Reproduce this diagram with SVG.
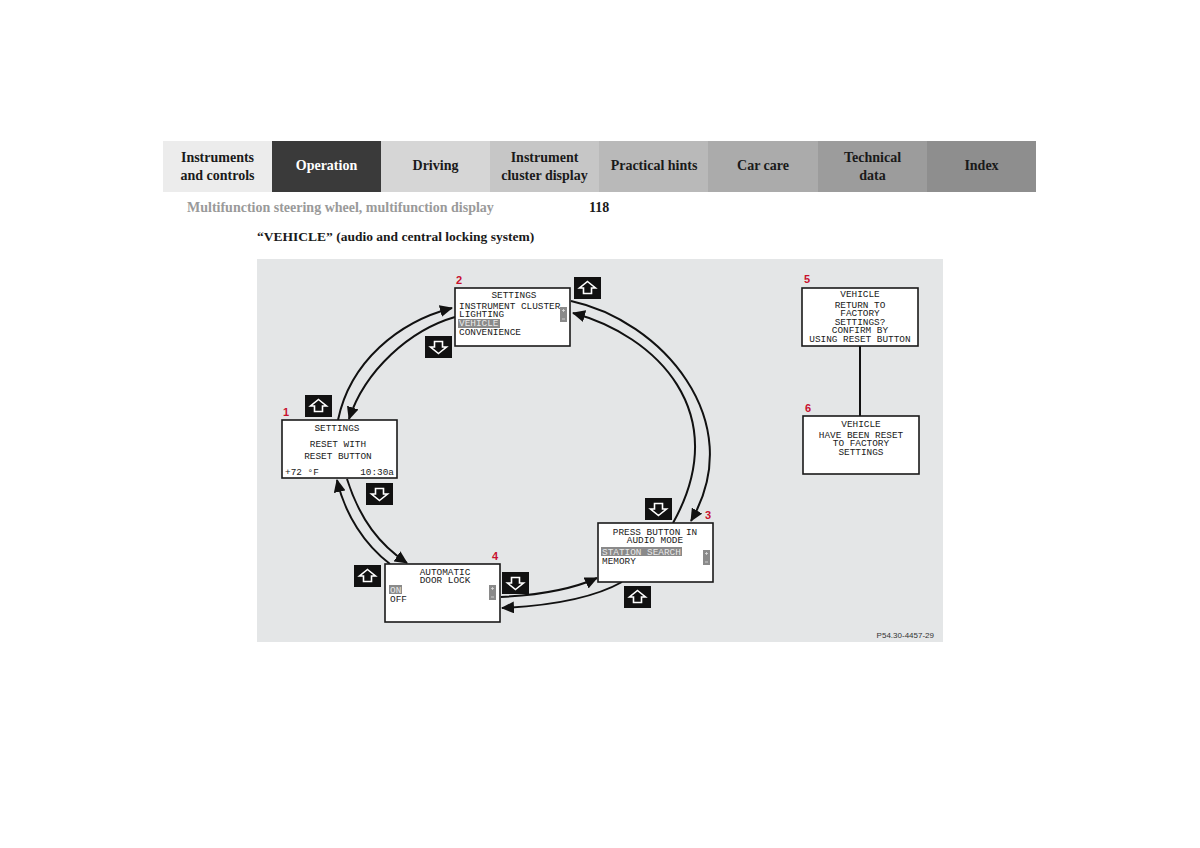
<svg xmlns="http://www.w3.org/2000/svg" width="1200" height="848" viewBox="0 0 1200 848">
<style>
.tab{font-family:"Liberation Serif",serif;font-weight:bold;font-size:14px;text-anchor:middle;fill:#1a1a1a}
.lcd{font-family:"Liberation Mono","DejaVu Sans Mono",monospace;font-size:9.4px;fill:#1a1a1a}
.c{text-anchor:middle}
.hl{fill:#e8e8e8}
.box{fill:#ffffff;stroke:#1a1a1a;stroke-width:1.6}
.num{font-family:"Liberation Sans",sans-serif;font-weight:bold;font-size:11px;fill:#c8102e}
.conn{fill:none;stroke:#111;stroke-width:2}
.btn{fill:#111}
.ico{fill:none;stroke:#fff;stroke-width:1.6;stroke-linejoin:miter}
.hlr{fill:#8a8a8a}
</style>
<defs>
<marker id="ah" markerUnits="userSpaceOnUse" markerWidth="14" markerHeight="12" refX="12" refY="6" orient="auto">
<path d="M0,0 L13,6 L0,12 Z" fill="#111"/>
</marker>
<g id="up"><rect class="btn" width="27" height="22"/><path class="ico" d="M13.5,4.5 L21.5,11 L17.5,11 L17.5,16.5 L9.5,16.5 L9.5,11 L5.5,11 Z"/></g>
<g id="down"><rect class="btn" width="27" height="22"/><path class="ico" d="M13.5,17.5 L21.5,11 L17.5,11 L17.5,5.5 L9.5,5.5 L9.5,11 L5.5,11 Z"/></g>
<g id="scroll"><rect class="hlr" width="7" height="15"/><path d="M2,3.5 H5 M3.5,2 V5 M2,12 H5" stroke="#ddd" stroke-width="0.8"/></g>
</defs>

<g id="header">
<rect x="163" y="141" width="109" height="51" fill="#ececec"/>
<rect x="272" y="141" width="109" height="51" fill="#3a3a3a"/>
<rect x="381" y="141" width="109" height="51" fill="#d6d6d6"/>
<rect x="490" y="141" width="109" height="51" fill="#c6c6c6"/>
<rect x="599" y="141" width="109" height="51" fill="#b9b9b9"/>
<rect x="708" y="141" width="110" height="51" fill="#ababab"/>
<rect x="818" y="141" width="109" height="51" fill="#9c9c9c"/>
<rect x="927" y="141" width="109" height="51" fill="#8e8e8e"/>
<text class="tab" x="217.5" y="162">Instruments</text>
<text class="tab" x="217.5" y="180">and controls</text>
<text class="tab" x="326.5" y="170" fill="#ffffff" style="fill:#fff">Operation</text>
<text class="tab" x="435.5" y="170">Driving</text>
<text class="tab" x="544.5" y="162">Instrument</text>
<text class="tab" x="544.5" y="180">cluster display</text>
<text class="tab" x="654" y="170">Practical hints</text>
<text class="tab" x="763" y="170">Car care</text>
<text class="tab" x="872.5" y="162">Technical</text>
<text class="tab" x="872.5" y="180">data</text>
<text class="tab" x="981.5" y="170">Index</text>
<text x="187" y="212" font-family="Liberation Serif,serif" font-weight="bold" font-size="14" fill="#9a9a9a">Multifunction steering wheel, multifunction display</text>
<text x="589" y="212" font-family="Liberation Serif,serif" font-weight="bold" font-size="14" fill="#1a1a1a">118</text>
<text x="257" y="241" font-family="Liberation Serif,serif" font-weight="bold" font-size="13.5" fill="#1a1a1a">“VEHICLE” (audio and central locking system)</text>
</g>

<rect x="257" y="259" width="686" height="383" fill="#e4e6e7"/>

<g id="connectors">
<path class="conn" d="M338,420 C350,362 398,322 452,308" marker-end="url(#ah)"/>
<path class="conn" d="M455,317 C410,330 365,370 349,419" marker-end="url(#ah)"/>
<path class="conn" d="M571,301 C660,320 750,420 691,521" marker-end="url(#ah)"/>
<path class="conn" d="M673,523 C735,412 655,335 573,313" marker-end="url(#ah)"/>
<path class="conn" d="M347,479 C360,520 380,545 407,563" marker-end="url(#ah)"/>
<path class="conn" d="M390,564 C365,545 345,515 337,480" marker-end="url(#ah)"/>
<path class="conn" d="M501,597 C540,595 575,588 597,578" marker-end="url(#ah)"/>
<path class="conn" d="M622,582 C590,600 545,606 502,608" marker-end="url(#ah)"/>
<path class="conn" d="M860,346 V416"/>
</g>

<g id="buttons">
<use href="#up" x="574" y="277"/>
<use href="#down" x="425" y="336"/>
<use href="#up" x="305" y="395"/>
<use href="#down" x="366" y="483"/>
<use href="#up" x="354" y="565"/>
<use href="#down" x="502" y="572"/>
<use href="#down" x="645" y="498"/>
<use href="#up" x="624" y="586"/>
</g>

<g id="node1">
<rect class="box" x="282" y="420" width="115" height="58"/>
<text class="num" x="283" y="416">1</text>
<text class="lcd c" x="337" y="431">SETTINGS</text>
<text class="lcd c" x="338" y="447">RESET WITH</text>
<text class="lcd c" x="338" y="459">RESET BUTTON</text>
<text class="lcd" x="285" y="475">+72 °F</text>
<text class="lcd" x="394" y="475" text-anchor="end">10:30a</text>
</g>

<g id="node2">
<rect class="box" x="455" y="288" width="115" height="58"/>
<text class="num" x="456" y="284">2</text>
<text class="lcd c" x="514" y="298">SETTINGS</text>
<text class="lcd" x="459" y="309">INSTRUMENT CLUSTER</text>
<text class="lcd" x="459" y="317">LIGHTING</text>
<rect class="hlr" x="458" y="319" width="42" height="9"/>
<text class="lcd hl" x="459" y="326">VEHICLE</text>
<text class="lcd" x="459" y="335">CONVENIENCE</text>
<use href="#scroll" x="560" y="307"/>
</g>

<g id="node3">
<rect class="box" x="598" y="523" width="115" height="59"/>
<text class="num" x="705" y="519">3</text>
<text class="lcd c" x="655" y="535">PRESS BUTTON IN</text>
<text class="lcd c" x="655" y="543">AUDIO MODE</text>
<rect class="hlr" x="601" y="547" width="81" height="9"/>
<text class="lcd hl" x="602" y="555">STATION SEARCH</text>
<text class="lcd" x="602" y="564">MEMORY</text>
<use href="#scroll" x="703" y="550"/>
</g>

<g id="node4">
<rect class="box" x="385" y="564" width="115" height="58"/>
<text class="num" x="492" y="560">4</text>
<text class="lcd c" x="445" y="575">AUTOMATIC</text>
<text class="lcd c" x="445" y="583">DOOR LOCK</text>
<rect class="hlr" x="389" y="585" width="13" height="9"/>
<text class="lcd hl" x="390" y="593">ON</text>
<text class="lcd" x="390" y="602">OFF</text>
<use href="#scroll" x="489" y="585"/>
</g>

<g id="node5">
<rect class="box" x="802" y="288" width="116" height="58"/>
<text class="num" x="804" y="283">5</text>
<text class="lcd c" x="860" y="297">VEHICLE</text>
<text class="lcd c" x="860" y="308">RETURN TO</text>
<text class="lcd c" x="860" y="316">FACTORY</text>
<text class="lcd c" x="860" y="325">SETTINGS?</text>
<text class="lcd c" x="860" y="333">CONFIRM BY</text>
<text class="lcd c" x="860" y="342">USING RESET BUTTON</text>
</g>

<g id="node6">
<rect class="box" x="803" y="416" width="116" height="58"/>
<text class="num" x="805" y="412">6</text>
<text class="lcd c" x="861" y="427">VEHICLE</text>
<text class="lcd c" x="861" y="438">HAVE BEEN RESET</text>
<text class="lcd c" x="861" y="446">TO FACTORY</text>
<text class="lcd c" x="861" y="455">SETTINGS</text>
</g>

<text x="934" y="638" text-anchor="end" font-family="Liberation Sans,sans-serif" font-size="8" fill="#333">P54.30-4457-29</text>
</svg>
